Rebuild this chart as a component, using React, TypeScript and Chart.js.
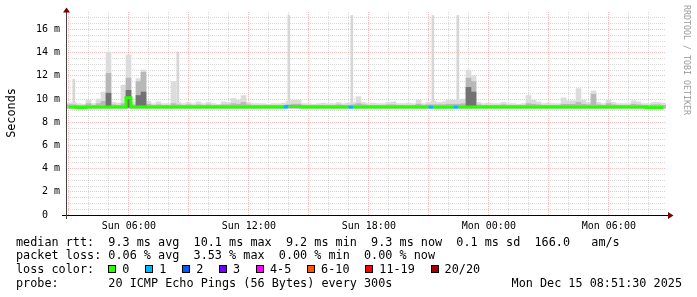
import React, { useEffect, useRef } from "react";
import { Chart, registerables } from "chart.js";

Chart.register(...registerables);

// ---- time axis (hours since Sun 00:00) ----
const xMinHour = 2.858; // Sun 02:51:30
const xMaxHour = 32.858; // Mon 08:51:30
const binHours = 0.25; // 15-minute smoke bins
const xTickHours = [6, 12, 18, 24, 30];
const xTickLabels = ["Sun 06:00", "Sun 12:00", "Sun 18:00", "Mon 00:00", "Mon 06:00"];

// ---- y axis (milliseconds) ----
const yMax = 17.5;
const yLabelValues = [0, 2, 4, 6, 8, 10, 12, 14, 16];
const yLabelTexts = ["0  ", "2 m", "4 m", "6 m", "8 m", "10 m", "12 m", "14 m", "16 m"];

// ---- smoke (ms), one value per 15-minute bin ----
const smokeFloor = 9.15;
const lightTop = [
  9.65, 9.7, 9.6, 9.55, 9.9, 9.6, 10.0, 10.6, 14.05, 9.7,
  9.65, 11.2, 13.8, 9.75, 11.75, 12.5, 9.8, 9.6, 9.75, 9.6,
  9.6, 11.5, 9.7, 9.6, 9.7, 9.6, 9.75, 9.6, 9.7, 9.6,
  9.55, 9.75, 9.7, 10.05, 9.9, 10.3, 9.7, 9.6, 9.6, 9.6,
  9.55, 9.6, 9.6, 9.65, 9.8, 9.9, 9.9, 9.6, 9.6, 9.55,
  9.6, 9.65, 9.6, 9.6, 9.7, 9.6, 9.65, 9.7, 10.2, 9.7,
  9.6, 9.65, 9.6, 9.6, 9.7, 9.75, 9.6, 9.6, 9.65, 9.6,
  9.9, 9.6, 9.7, 9.8, 9.7, 9.75, 9.9, 9.9, 9.9, 10.0,
  12.5, 12.0, 9.7, 9.6, 9.65, 9.6, 9.6, 9.7, 9.6, 9.6,
  9.55, 9.6, 10.3, 9.9, 9.75, 9.6, 9.65, 9.6, 9.6, 10.1,
  9.85, 9.85, 10.9, 9.9, 9.7, 10.7, 9.7, 9.6, 9.9, 9.7,
  9.6, 9.6, 9.6, 9.85, 9.75, 9.6, 9.6, 9.7, 9.7, 9.65,
];
const midFloor = 9.22;
const midTop = [
  9.5, 9.5, 9.45, 9.45, 9.6, 9.45, 9.6, 9.8, 12.2, 9.5,
  9.45, 9.6, 11.8, 9.5, 11.5, 12.3, 9.55, 9.45, 9.5, 9.45,
  9.45, 9.6, 9.5, 9.45, 9.5, 9.45, 9.5, 9.45, 9.5, 9.45,
  9.45, 9.5, 9.5, 9.6, 9.55, 9.7, 9.5, 9.45, 9.45, 9.45,
  9.45, 9.45, 9.45, 9.45, 9.5, 9.55, 9.55, 9.45, 9.45, 9.45,
  9.45, 9.45, 9.45, 9.45, 9.5, 9.45, 9.45, 9.5, 9.6, 9.5,
  9.45, 9.45, 9.45, 9.45, 9.5, 9.5, 9.45, 9.45, 9.45, 9.45,
  9.55, 9.45, 9.5, 9.5, 9.5, 9.5, 9.55, 9.55, 9.55, 9.6,
  11.8, 11.5, 9.5, 9.45, 9.45, 9.45, 9.45, 9.5, 9.45, 9.45,
  9.45, 9.45, 9.6, 9.55, 9.5, 9.45, 9.45, 9.45, 9.45, 9.55,
  9.55, 9.55, 9.7, 9.55, 9.5, 10.4, 9.5, 9.45, 9.6, 9.5,
  9.45, 9.45, 9.45, 9.55, 9.5, 9.45, 9.45, 9.5, 9.5, 9.45,
];
const darkFloor = 9.28;
const darkBins = [8, 12, 14, 15, 80, 81];
const darkTops = [10.5, 10.75, 10.3, 10.6, 11.0, 10.6];

// thin single-sample outliers
const spikeFloor = 9.6;
const spikeHours = [3.25, 8.45, 14.0, 17.15, 21.2, 22.45];
const spikeTops = [11.7, 14.05, 17.2, 17.2, 17.2, 17.2];

// ---- median RTT (ms) per bin ----
const medianRtt = [
  9.3, 9.3, 9.27, 9.27, 9.3, 9.3, 9.3, 9.3, 9.32, 9.3,
  9.3, 9.3, 10.1, 9.3, 9.3, 9.3, 9.3, 9.3, 9.3, 9.3,
  9.3, 9.3, 9.3, 9.3, 9.3, 9.3, 9.3, 9.3, 9.3, 9.3,
  9.3, 9.3, 9.3, 9.3, 9.3, 9.3, 9.3, 9.3, 9.3, 9.3,
  9.3, 9.3, 9.3, 9.3, 9.35, 9.35, 9.35, 9.3, 9.3, 9.3,
  9.3, 9.3, 9.3, 9.3, 9.3, 9.3, 9.3, 9.3, 9.3, 9.3,
  9.3, 9.3, 9.3, 9.3, 9.3, 9.3, 9.3, 9.3, 9.3, 9.3,
  9.3, 9.3, 9.3, 9.3, 9.3, 9.3, 9.3, 9.3, 9.3, 9.32,
  9.32, 9.3, 9.3, 9.3, 9.3, 9.3, 9.3, 9.3, 9.3, 9.3,
  9.3, 9.3, 9.3, 9.3, 9.3, 9.3, 9.3, 9.3, 9.3, 9.3,
  9.3, 9.3, 9.3, 9.3, 9.3, 9.3, 9.3, 9.3, 9.3, 9.3,
  9.3, 9.3, 9.3, 9.3, 9.3, 9.3, 9.27, 9.27, 9.27, 9.27,
];
const lossBins = [44, 57, 73, 78];
const lossLevels = [1, 1, 1, 1];

// ---- loss colour legend ----
const lossLabels = ["0", "1", "2", "3", "4-5", "6-10", "11-19", "20/20"];
const lossColors = ["#26ff00", "#00b8ff", "#0059ff", "#7100ff", "#ff00ff", "#ff5500", "#ff0000", "#a10000"];

// ---- legend text ----
const medianLine = "median rtt:  9.3 ms avg  10.1 ms max  9.2 ms min  9.3 ms now  0.1 ms sd  166.0   am/s";
const lossLine = "packet loss: 0.06 % avg  3.53 % max  0.00 % min  0.00 % now";
const probeLine = "probe:       20 ICMP Echo Pings (56 Bytes) every 300s";
const stampText = "Mon Dec 15 08:51:30 2025";

const MONO = "'DejaVu Sans Mono', monospace";
const binCenter = (i: number) => xMinHour + binHours * i + binHours / 2;
const lossAt = (i: number) => {
  const k = lossBins.indexOf(i);
  return k >= 0 ? lossLevels[k] : 0;
};

const axesPlugin = {
  id: "rrdAxes",
  afterDraw(chart: any) {
    const { ctx, chartArea } = chart;
    const { left, right, top, bottom } = chartArea;
    ctx.save();
    ctx.lineWidth = 1;
    ctx.strokeStyle = "#000";
    ctx.beginPath();
    ctx.moveTo(left - 4, bottom + 0.5);
    ctx.lineTo(right + 2, bottom + 0.5);
    ctx.stroke();
    ctx.strokeStyle = "#444";
    ctx.beginPath();
    ctx.moveTo(left + 0.5, bottom + 4);
    ctx.lineTo(left + 0.5, top);
    ctx.stroke();
    ctx.fillStyle = "#7a0000";
    ctx.beginPath();
    ctx.moveTo(right + 2, bottom - 3);
    ctx.lineTo(right + 7.5, bottom + 0.5);
    ctx.lineTo(right + 2, bottom + 4);
    ctx.closePath();
    ctx.fill();
    ctx.beginPath();
    ctx.moveTo(left - 3, top + 0.5);
    ctx.lineTo(left + 0.5, top - 4.5);
    ctx.lineTo(left + 4, top + 0.5);
    ctx.closePath();
    ctx.fill();
    ctx.restore();
  },
};

export default function App() {
  const canvasRef = useRef<HTMLCanvasElement | null>(null);

  useEffect(() => {
    const canvas = canvasRef.current;
    if (!canvas) return;

    const gridGray = "rgba(185,185,185,0.55)";
    const gridRed = "rgba(240,140,140,0.55)";

    const chart = new Chart(canvas, {
      type: "bar",
      data: {
        datasets: [
          {
            type: "line",
            label: "median",
            data: medianRtt.map((v, i) => ({ x: binCenter(i), y: v })),
            borderColor: lossColors[0],
            borderWidth: 3,
            pointRadius: 0,
            stepped: "middle",
            fill: false,
            order: 0,
            segment: {
              borderColor: (c: any) => lossColors[lossAt(c.p1DataIndex)],
            },
          } as any,
          {
            label: "dark",
            data: darkBins.map((b, k) => ({ x: binCenter(b), y: [darkFloor, darkTops[k]] })),
            backgroundColor: "#727272",
            barThickness: 5,
            stack: "smoke",
            order: 1,
          } as any,
          {
            label: "mid",
            data: midTop.map((v, i) => ({ x: binCenter(i), y: [midFloor, v] })),
            backgroundColor: "#b8b8b8",
            barThickness: 5,
            stack: "smoke",
            order: 2,
          } as any,
          {
            label: "light",
            data: lightTop.map((v, i) => ({ x: binCenter(i), y: [smokeFloor, v] })),
            backgroundColor: "#dcdcdc",
            barThickness: 5,
            stack: "smoke",
            order: 3,
          } as any,
          {
            label: "spikes",
            data: spikeHours.map((h, k) => ({ x: h, y: [spikeFloor, spikeTops[k]] })),
            backgroundColor: "#d6d6d6",
            barThickness: 2,
            stack: "smoke",
            order: 4,
          } as any,
        ],
      },
      options: {
        responsive: false,
        animation: false,
        events: [],
        layout: { padding: { left: 0, right: 31, top: 12, bottom: 0 } },
        plugins: {
          legend: { display: false },
          tooltip: { enabled: false },
          title: { display: false },
        },
        scales: {
          x: {
            type: "linear",
            min: xMinHour,
            max: xMaxHour,
            offset: false,
            afterBuildTicks: (scale: any) => {
              const t = [];
              for (let h = Math.ceil(xMinHour); h <= Math.floor(xMaxHour); h++) t.push({ value: h });
              scale.ticks = t;
            },
            afterFit: (scale: any) => {
              scale.height = 82;
            },
            grid: {
              offset: false,
              drawTicks: false,
              lineWidth: 1,
              color: (c: any) => (c.tick && c.tick.value % 3 === 0 ? gridRed : gridGray),
            },
            border: { display: false, dash: [1, 1] },
            ticks: {
              autoSkip: false,
              maxRotation: 0,
              padding: 5,
              color: "#000",
              font: { family: MONO, size: 10 },
              callback: (v: any) => {
                const k = xTickHours.indexOf(Number(v));
                return k >= 0 ? xTickLabels[k] : "";
              },
            },
          },
          y: {
            type: "linear",
            min: 0,
            max: yMax,
            stacked: false,
            afterBuildTicks: (scale: any) => {
              const t = [];
              for (let v = 0; v < yMax; v += 0.5) t.push({ value: v });
              scale.ticks = t;
            },
            afterFit: (scale: any) => {
              scale.width = 66;
            },
            grid: {
              drawTicks: false,
              lineWidth: 1,
              color: (c: any) => {
                const v = c.tick ? c.tick.value : 1;
                if (v === 0) return "rgba(0,0,0,0)";
                return v % 2 === 0 ? gridRed : gridGray;
              },
            },
            border: { display: false, dash: [1, 1] },
            ticks: {
              autoSkip: false,
              padding: 6,
              color: "#000",
              font: { family: MONO, size: 10 },
              callback: (v: any) => {
                const k = yLabelValues.indexOf(Number(v));
                return k >= 0 ? yLabelTexts[k] : "";
              },
            },
          },
        },
      } as any,
      plugins: [axesPlugin],
    });

    return () => chart.destroy();
  }, []);

  const rowStyle: React.CSSProperties = {
    position: "absolute",
    left: 16,
    height: 14,
    lineHeight: "14px",
    fontFamily: MONO,
    fontSize: "11.8px",
    whiteSpace: "pre",
    color: "#000",
  };

  return (
    <div
      style={{
        position: "absolute",
        left: 0,
        top: 0,
        width: 697,
        height: 297,
        background: "#fff",
        overflow: "hidden",
      }}
    >
      <canvas ref={canvasRef} width={697} height={297} style={{ position: "absolute", left: 0, top: 0 }} />
      <div
        style={{
          position: "absolute",
          left: 11 - 50,
          top: 113 - 7,
          width: 100,
          height: 14,
          lineHeight: "14px",
          textAlign: "center",
          fontFamily: MONO,
          fontSize: "11.8px",
          color: "#000",
          transform: "rotate(-90deg)",
        }}
      >
        Seconds
      </div>
      <div
        style={{
          position: "absolute",
          left: 687 - 60,
          top: 60 - 5,
          width: 120,
          height: 10,
          lineHeight: "10px",
          textAlign: "center",
          fontFamily: MONO,
          fontSize: "8.3px",
          color: "#9a9a9a",
          whiteSpace: "pre",
          transform: "rotate(90deg)",
        }}
      >
        RRDTOOL / TOBI OETIKER
      </div>
      <div style={{ ...rowStyle, top: 235 }}>{medianLine}</div>
      <div style={{ ...rowStyle, top: 248 }}>{lossLine}</div>
      <div style={{ ...rowStyle, top: 262, display: "flex", alignItems: "center" }}>
        <span>{"loss color:  "}</span>
        {lossLabels.map((l, i) => (
          <span key={l} style={{ display: "inline-flex", alignItems: "center", marginRight: 1.6 }}>
            <span
              style={{
                display: "inline-block",
                width: 8,
                height: 8,
                boxSizing: "border-box",
                border: "1px solid #000",
                background: lossColors[i],
                marginRight: 6,
              }}
            />
            <span>{l + "  "}</span>
          </span>
        ))}
      </div>
      <div style={{ ...rowStyle, top: 276 }}>{probeLine}</div>
      <div style={{ ...rowStyle, left: undefined, right: 15, top: 276, textAlign: "right" }}>{stampText}</div>
    </div>
  );
}
